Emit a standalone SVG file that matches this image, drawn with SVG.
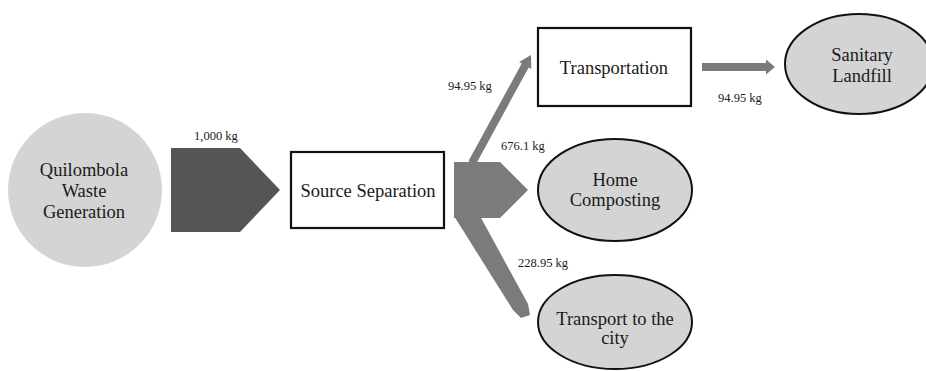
<svg xmlns="http://www.w3.org/2000/svg" width="926" height="371" viewBox="0 0 926 371">
<style>
text{fill:#1a1a1a;text-anchor:middle}
.n{font-size:18.5px}
.l{font-size:12.5px;text-anchor:start}
.ell{fill:#d4d4d4;stroke:#111;stroke-width:2}
.box{fill:#fff;stroke:#111;stroke-width:2.2}
.dark{fill:#555}
.gray{fill:#7b7b7b}
</style>
<rect width="926" height="371" fill="#fff"/>
<g font-family="Liberation Serif, DejaVu Serif, serif">
<g id="connectors">
<polygon class="dark" points="171,148 240,148 280,190 240,232 171,232"/>
<polygon class="gray" points="468.5,161.1 521.7,63.6 519.1,62.1 531,55 531.3,68.9 528.7,67.4 475.5,164.9"/>
<polygon class="gray" points="454,216 480,216 528,304 530,315 521,318 513,310"/>
<polygon class="gray" points="454,162 500,162 528,190 500,218 454,218"/>
<polygon class="gray" points="702,63 766,63 766,59.5 775,67 766,74.5 766,71 702,71"/>
<text class="l" x="194" y="140">1,000 kg</text>
<text class="l" x="448" y="90">94.95 kg</text>
<text class="l" x="718" y="102">94.95 kg</text>
<text class="l" x="501" y="150">676.1 kg</text>
<text class="l" x="518" y="267">228.95 kg</text>
</g>
<g id="quilombola">
<circle cx="85" cy="190" r="77" fill="#d4d4d4"/>
<text class="n" x="84" y="176">Quilombola</text>
<text class="n" x="84" y="197">Waste</text>
<text class="n" x="84" y="218">Generation</text>
</g>
<g id="source-separation">
<rect class="box" x="291" y="152" width="153" height="76"/>
<text class="n" x="368" y="197">Source Separation</text>
</g>
<g id="transportation">
<rect class="box" x="538" y="28" width="153" height="78"/>
<text class="n" x="614" y="74">Transportation</text>
</g>
<g id="sanitary-landfill">
<ellipse class="ell" cx="859" cy="64" rx="74" ry="50"/>
<text class="n" x="862" y="61">Sanitary</text>
<text class="n" x="862" y="82">Landfill</text>
</g>
<g id="home-composting">
<ellipse class="ell" cx="615" cy="190" rx="77" ry="51"/>
<text class="n" x="615" y="186">Home</text>
<text class="n" x="615" y="206">Composting</text>
</g>
<g id="transport-city">
<ellipse class="ell" cx="615" cy="322" rx="77" ry="47"/>
<text class="n" x="615" y="325">Transport to the</text>
<text class="n" x="615" y="344">city</text>
</g>
</g>
</svg>
